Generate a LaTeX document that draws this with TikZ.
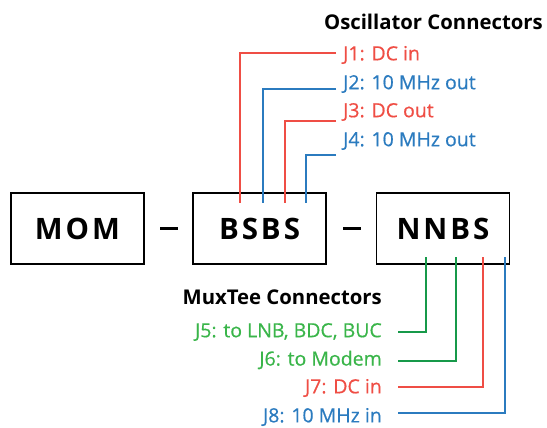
\documentclass[tikz,border=0pt]{standalone}
\usepackage{fontspec}
\setmainfont{Open Sans}
\newfontfamily\boxfont[LetterSpace=10]{Open Sans}
\newfontfamily\labfont[FakeBold=0.6]{Open Sans}
\definecolor{cred}{HTML}{EF4E45}
\definecolor{cblue}{HTML}{2B7BBF}
\definecolor{cgreenl}{HTML}{17994A}
\definecolor{cgreent}{HTML}{3AB54A}
\begin{document}
\begin{tikzpicture}[x=1pt,y=-1pt,
  unit/.style={draw=black,line width=1.6pt,minimum width=133pt,minimum height=71pt,inner sep=0pt,font=\boxfont\bfseries\fontsize{29.5}{30}\selectfont},
  lab/.style={inner sep=0pt,font=\labfont\fontsize{19.5}{21}\selectfont},
  ttl/.style={inner sep=0pt,font=\bfseries\fontsize{20.3}{22}\selectfont},
  sepdash/.style={fill=black,inner sep=0pt,minimum width=18pt,minimum height=3pt},
  wire/.style={line width=1.5pt}]
\useasboundingbox (0,0) rectangle (547,428);
% boxes
\node[unit] (mom) at (77.5,228.5) {MOM};
\node[unit] (bsbs) at (259.5,228.5) {BSBS};
\node[unit] (nnbs) at (443,228.5) {NNBS};
\node[sepdash] (d1) at (168.5,228) {};
\node[sepdash] (d2) at (351.5,228) {};
% oscillator
\node[ttl,anchor=east] (ot) at (543,22) {Oscillator Connectors};
\node[lab,anchor=west,text=cred] (j1) at (343,55) {J1: DC in};
\node[lab,anchor=west,text=cblue] (j2) at (343,84) {J2: 10 MHz out};
\node[lab,anchor=west,text=cred] (j3) at (343,112) {J3: DC out};
\node[lab,anchor=west,text=cblue] (j4) at (343,141) {J4: 10 MHz out};
\coordinate (e1) at (336,53);
\coordinate (e2) at (336,89);
\coordinate (e3) at (336,121);
\coordinate (e4) at (336,155);
\draw[wire,cred] (e1) -| (240,203);
\draw[wire,cblue] (e2) -| (263,203);
\draw[wire,cred] (e3) -| (285,203);
\draw[wire,cblue] (e4) -| (306,203);
% muxtee
\node[ttl,anchor=east] (mt) at (382,297) {MuxTee Connectors};
\node[lab,anchor=east,text=cgreent] (j5) at (382,332) {J5: to LNB, BDC, BUC};
\node[lab,anchor=east,text=cgreent] (j6) at (382,360) {J6: to Modem};
\node[lab,anchor=east,text=cred] (j7) at (382,388) {J7: DC in};
\node[lab,anchor=east,text=cblue] (j8) at (382,417) {J8: 10 MHz in};
\coordinate (f5) at (398,332);
\coordinate (f6) at (398,361);
\coordinate (f7) at (398,387);
\coordinate (f8) at (398,413);
\draw[wire,cgreenl] (f5) -| (426,257);
\draw[wire,cgreenl] (f6) -| (456,257);
\draw[wire,cred] (f7) -| (483,257);
\draw[wire,cblue] (f8) -| (505,257);
\end{tikzpicture}
\end{document}
